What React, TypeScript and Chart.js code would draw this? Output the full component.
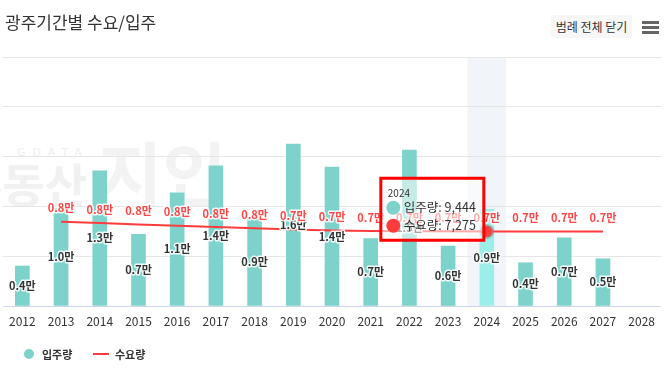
import React, { useEffect, useRef } from 'react';
import { Chart, registerables, Tooltip } from 'chart.js';

Chart.register(...registerables);

// ---- data ----
const years = ['2012', '2013', '2014', '2015', '2016', '2017', '2018', '2019', '2020', '2021', '2022', '2023', '2024', '2025', '2026', '2027', '2028'];
const moveIn: (number | null)[] = [3900, 9520, 13200, 7000, 11050, 13690, 8550, 15800, 13550, 6570, 15220, 5850, 9444, 4220, 6660, 4610, null];
const demand: (number | null)[] = [null, 8220, 8090, 7960, 7840, 7710, 7580, 7460, 7380, 7330, 7300, 7285, 7275, 7270, 7265, 7260, null];
const seriesNames = ['입주량', '수요량'];
const focusYear = '2024';
const titleText = '광주기간별 수요/입주';
const buttonText = '범례 전체 닫기';

const TEAL = '#7dd3cb';
const TEAL_HI = '#9cefe9';
const RED = '#ff3b3b';
const FONT = "'Noto Sans CJK KR', 'Noto Sans', sans-serif";

(Tooltip.positioners as any).barTop = function (items: any[]) {
  if (!items || !items.length) return false;
  const bar = items.find((i) => i.datasetIndex === 0) || items[0];
  return { x: bar.element.x, y: bar.element.y };
};

const fmtMan = (v: number) => (v / 10000).toFixed(1) + '만';

const bandPlugin = {
  id: 'focusBand',
  beforeDraw(chart: any) {
    const { ctx, chartArea, scales } = chart;
    const i = years.indexOf(focusYear);
    if (i < 0) return;
    const w = chartArea.width / years.length;
    const cx = scales.x.getPixelForValue(i);
    ctx.save();
    ctx.fillStyle = '#f1f4f9';
    ctx.fillRect(cx - w / 2, chartArea.top, w, chartArea.bottom - chartArea.top);
    ctx.restore();
  },
};

const labelPlugin = {
  id: 'valueLabels',
  afterDatasetsDraw(chart: any) {
    const ctx = chart.ctx;
    ctx.save();
    ctx.font = `bold 11px ${FONT}`;
    ctx.textAlign = 'center';
    ctx.textBaseline = 'middle';
    ctx.lineJoin = 'round';
    const barMeta = chart.getDatasetMeta(0);
    barMeta.data.forEach((el: any, i: number) => {
      const v = moveIn[i];
      if (v == null) return;
      const p = el.getProps(['x', 'y', 'base'], true);
      const y = (p.y + p.base) / 2;
      const t = fmtMan(v);
      ctx.lineWidth = 3;
      ctx.strokeStyle = 'rgba(255,255,255,0.85)';
      ctx.strokeText(t, p.x, y);
      ctx.fillStyle = '#333333';
      ctx.fillText(t, p.x, y);
    });
    const lineMeta = chart.getDatasetMeta(1);
    lineMeta.data.forEach((el: any, i: number) => {
      const v = demand[i];
      if (v == null) return;
      const p = el.getProps(['x', 'y'], true);
      const y = p.y - 13.5;
      const t = fmtMan(v);
      ctx.lineWidth = 3;
      ctx.strokeStyle = 'rgba(255,255,255,0.85)';
      ctx.strokeText(t, p.x, y);
      ctx.fillStyle = '#ff4545';
      ctx.fillText(t, p.x, y);
    });
    ctx.restore();
  },
};

export default function App() {
  const canvasRef = useRef<HTMLCanvasElement | null>(null);

  useEffect(() => {
    if (!canvasRef.current) return;
    Chart.defaults.font.family = FONT;
    const fi = years.indexOf(focusYear);
    const chart = new Chart(canvasRef.current, {
      type: 'bar',
      data: {
        labels: years,
        datasets: [
          {
            type: 'bar',
            label: seriesNames[0],
            data: moveIn,
            backgroundColor: years.map((y) => (y === focusYear ? TEAL_HI : TEAL)),
            hoverBackgroundColor: years.map((y) => (y === focusYear ? TEAL_HI : TEAL)),
            barThickness: 14,
            order: 1,
          } as any,
          {
            type: 'line',
            label: seriesNames[1],
            data: demand,
            borderColor: RED,
            backgroundColor: RED,
            borderWidth: 2,
            pointRadius: years.map((y) => (y === focusYear ? 6 : 0)),
            pointHoverRadius: years.map((y) => (y === focusYear ? 6 : 0)),
            pointBackgroundColor: RED,
            pointBorderColor: 'rgba(140,140,140,0.45)',
            pointBorderWidth: 3,
            tension: 0,
            order: 0,
          } as any,
        ],
      },
      options: {
        responsive: false,
        animation: false,
        events: [],
        layout: { padding: { top: 57, left: 3, right: 9, bottom: 39.6 } },
        scales: {
          x: {
            grid: { display: false, drawTicks: false },
            border: { display: false },
            ticks: { color: '#333333', font: { size: 12 }, padding: 8 },
          },
          y: {
            min: 0,
            max: 24300,
            ticks: { display: false, stepSize: 5000, includeBounds: false },
            grid: {
              drawTicks: false,
              color: (c: any) => (c.tick && c.tick.value === 0 ? '#ccd6eb' : '#e6e6e6'),
              lineWidth: 1,
            },
            border: { display: false },
          },
        },
        plugins: {
          legend: { display: false },
          tooltip: {
            enabled: true,
            mode: 'index',
            intersect: false,
            position: 'barTop' as any,
            xAlign: 'right',
            yAlign: 'center',
            caretSize: 0,
            caretPadding: 3,
            cornerRadius: 0,
            backgroundColor: 'rgba(255,255,255,0.55)',
            borderColor: '#ff0000',
            borderWidth: 3,
            titleColor: '#333333',
            bodyColor: '#333333',
            titleFont: { size: 10, weight: 'normal' },
            bodyFont: { size: 12.5 },
            titleMarginBottom: 1,
            bodySpacing: 3,
            padding: { top: 9, bottom: 7, left: 7, right: 8 },
            usePointStyle: true,
            boxWidth: 11,
            boxHeight: 11,
            boxPadding: 3,
            itemSort: (a: any, b: any) => a.datasetIndex - b.datasetIndex,
            callbacks: {
              label: (c: any) => `${c.dataset.label}: ${Number(c.raw).toLocaleString('en-US')}`,
              labelPointStyle: () => ({ pointStyle: 'circle', rotation: 0 }),
              labelColor: (c: any) => {
                const col = c.datasetIndex === 0 ? TEAL : RED;
                return { borderColor: col, backgroundColor: col };
              },
            },
          } as any,
        },
      },
      plugins: [bandPlugin, labelPlugin],
    });
    const active = [
      { datasetIndex: 0, index: fi },
      { datasetIndex: 1, index: fi },
    ];
    chart.tooltip?.setActiveElements(active, { x: 0, y: 0 });
    chart.update();
    return () => chart.destroy();
  }, []);

  const txt: React.CSSProperties = { position: 'absolute', fontFamily: FONT, color: '#333', whiteSpace: 'nowrap' };

  return (
    <div style={{ position: 'fixed', left: 0, top: 0, width: 670, height: 376, background: '#fff', overflow: 'hidden' }}>
      {/* watermark */}
      <div style={{ ...txt, left: 17, top: 146, fontSize: 11, letterSpacing: 7, color: '#eeeeee', fontFamily: 'DejaVu Sans, sans-serif' }}>GDATA</div>
      <div style={{ ...txt, left: -40, top: 152, fontSize: 46, fontWeight: 'bold', color: '#f1f1f1', lineHeight: '60px' }}>부동산</div>
      <div style={{ ...txt, left: 98, top: 126, fontSize: 70, fontWeight: 'bold', color: '#f3f3f3', lineHeight: '90px' }}>지인</div>

      <canvas ref={canvasRef} width={670} height={376} style={{ position: 'absolute', left: 0, top: 0, width: 670, height: 376 }} />

      <div style={{ ...txt, left: 5, top: 10, fontSize: 17, lineHeight: '24px' }}>{titleText}</div>
      <div style={{ ...txt, left: 551, top: 15, width: 81, height: 23, background: '#f7f7f7', borderRadius: 3, fontSize: 12, lineHeight: '23px', textAlign: 'center' }}>{buttonText}</div>
      {[21, 26, 31].map((t) => (
        <div key={t} style={{ position: 'absolute', left: 642, top: t, width: 17, height: 3, background: '#666' }} />
      ))}

      {/* legend */}
      <div style={{ position: 'absolute', left: 24, top: 349, width: 10, height: 10, borderRadius: '50%', background: TEAL }} />
      <div style={{ ...txt, left: 42, top: 346, fontSize: 11, fontWeight: 'bold', lineHeight: '16px' }}>{seriesNames[0]}</div>
      <div style={{ position: 'absolute', left: 93, top: 353, width: 16, height: 2, background: RED }} />
      <div style={{ ...txt, left: 115, top: 346, fontSize: 11, fontWeight: 'bold', lineHeight: '16px' }}>{seriesNames[1]}</div>
    </div>
  );
}
